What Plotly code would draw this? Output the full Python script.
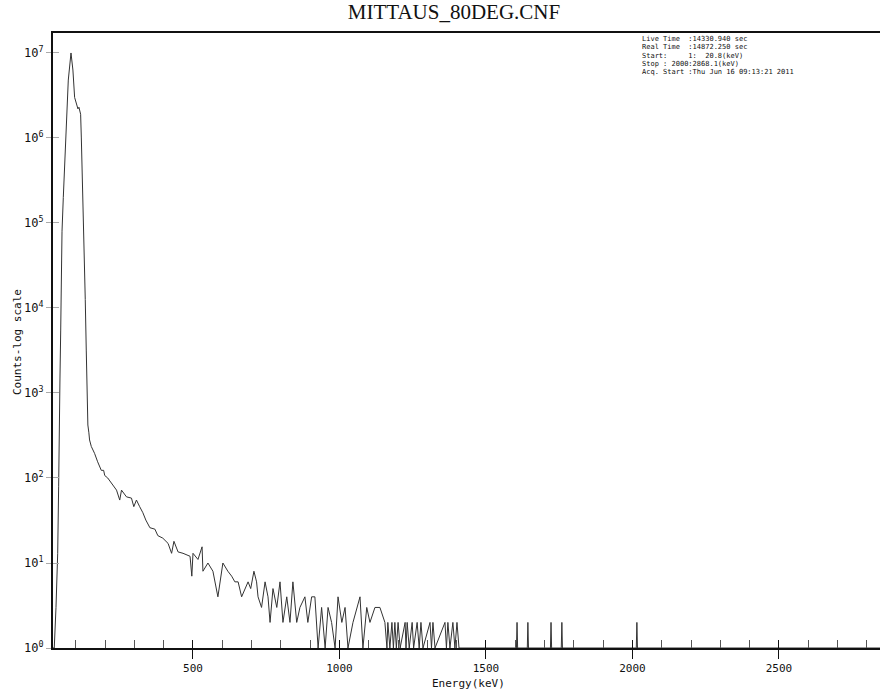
import plotly.graph_objects as go

# ---- data (rows aligned, 10 per row) ----
energy_kev = [
    20.8, 26.5, 32.4, 38.2, 41.5, 43.0, 46.0, 48.5, 51.0, 53.0,
    57.4, 65.5, 74.4, 83.6, 90.2, 96.0, 101.8, 107.3, 110.7, 116.5,
    118.9, 124.4, 129.9, 132.3, 135.7, 137.7, 141.2, 144.7, 147.0, 152.9,
    164.0, 174.6, 187.0, 195.0, 198.8, 209.0, 226.0, 239.0, 250.0, 256.0,
    273.0, 290.0, 298.0, 307.0, 318.0, 329.0, 339.0, 353.0, 370.0, 380.0,
    397.0, 415.0, 427.0, 435.0, 449.0, 466.0, 490.0, 496.0, 500.0, 517.0,
    531.0, 534.0, 551.0, 568.0, 585.0, 602.0, 619.0, 632.0, 643.0, 654.0,
    666.0, 677.0, 688.0, 697.0, 708.0, 717.0, 722.0, 734.0, 746.0, 756.0,
    763.0, 773.0, 786.0, 797.0, 807.0, 820.0, 831.0, 841.0, 854.0, 865.0,
    882.0, 892.0, 905.0, 916.0, 927.0, 939.0, 951.0, 961.0, 973.0, 985.0,
    995.0, 1008.0, 1019.0, 1029.0, 1046.0, 1070.0, 1080.0, 1093.0, 1104.0, 1121.0,
    1138.0, 1155.0, 1162.0, 1165.0, 1172.0, 1179.0, 1184.0, 1189.0, 1194.0, 1200.0,
    1207.0, 1224.0, 1227.0, 1231.0, 1238.0, 1248.0, 1253.0, 1265.0, 1272.0, 1278.0,
    1285.0, 1309.0, 1314.0, 1319.0, 1326.0, 1360.0, 1365.0, 1370.0, 1377.0, 1387.0,
    1394.0, 1401.0, 1408.0, 1604.0, 1606.0, 1608.0, 1641.0, 1643.0, 1645.0, 1720.0,
    1722.0, 1724.0, 1757.0, 1759.0, 1761.0, 2013.0, 2015.0, 2017.0, 2868.1,
]
counts = [
    1, 1, 3, 13, 80, 500, 1500, 5500, 25000, 80000,
    200000, 1000000, 4800000, 10000000, 6300000, 3000000, 2450000, 2200000, 2300000, 1900000,
    1000000, 200000, 52000, 12600, 3200, 1000, 420, 340, 280, 235,
    195, 155, 123, 123, 107, 100, 83, 72, 55, 72,
    60, 58, 46, 55, 46, 39, 32, 26, 25, 21,
    19.6, 17, 13, 18, 13.5, 13, 12, 7, 13, 11,
    15.5, 8, 10, 8, 4, 10, 8, 7, 6, 6,
    4, 5, 6, 5, 8, 6, 4, 3, 6, 4,
    2, 5, 3, 6, 2, 4, 2, 6, 2, 3,
    4, 2, 4, 4, 1, 3, 1, 3, 2, 1,
    4, 2, 3, 1, 2, 4, 1, 3, 2, 3,
    3, 2, 1, 2, 1, 2, 1, 2, 1, 2,
    1, 2, 1, 2, 1, 2, 1, 2, 1, 2,
    1, 2, 1, 2, 1, 2, 1, 2, 1, 2,
    1, 2, 1, 1, 2, 1, 1, 2, 1, 1,
    2, 1, 1, 2, 1, 1, 2, 1, 1,
]
x_tick_vals = [500, 1000, 1500, 2000, 2500]
x_tick_text = ["500", "1000", "1500", "2000", "2500"]
y_tick_vals = [1, 10, 100, 1000, 10000, 100000, 1000000, 10000000]
y_tick_text = ["10<sup>0</sup>", "10<sup>1</sup>", "10<sup>2</sup>", "10<sup>3</sup>",
               "10<sup>4</sup>", "10<sup>5</sup>", "10<sup>6</sup>", "10<sup>7</sup>"]
info_lines = [
    "Live Time  :14330.940 sec",
    "Real Time  :14872.250 sec",
    "Start:     1:  20.8(keV)",
    "Stop : 2000:2868.1(keV)",
    "Acq. Start :Thu Jun 16 09:13:21 2011",
]
title_text = "MITTAUS_80DEG.CNF"

W, H = 880, 695
ML, MR, MT, MB = 53, 0, 33, 47
X_RANGE = [22.2, 2844.8]
Y_RANGE = [0, 7.235]
MONO = "DejaVu Sans Mono"

fig = go.Figure()
fig.add_trace(go.Scatter(
    x=energy_kev, y=counts, mode="lines",
    line=dict(color="#333333", width=1), showlegend=False, hoverinfo="skip",
))
# overlay trace carrying the inward-facing tick marks
fig.add_trace(go.Scatter(x=[], y=[], xaxis="x2", yaxis="y2", showlegend=False))

fig.update_layout(
    width=W, height=H,
    margin=dict(l=ML, r=MR, t=MT, b=MB, pad=0),
    paper_bgcolor="white", plot_bgcolor="white",
    title=dict(text=title_text, x=454 / W, xref="container", xanchor="center",
               y=1 - 12 / H, yref="container", yanchor="middle",
               font=dict(family="Liberation Serif", size=21, color="#111")),
    xaxis=dict(
        range=X_RANGE, showgrid=False, zeroline=False,
        showline=True, linecolor="#111", linewidth=2, mirror=True,
        ticks="outside", ticklen=9, tickcolor="#111", tickwidth=1,
        tickvals=x_tick_vals, ticktext=x_tick_text,
        tickfont=dict(family=MONO, size=11, color="#111"),
        minor=dict(ticks="inside", dtick=100, tick0=0, ticklen=8, tickcolor="#555", tickwidth=1),
    ),
    xaxis2=dict(
        overlaying="x", matches="x", side="bottom", range=X_RANGE,
        showgrid=False, zeroline=False, showline=False,
        ticks="inside", ticklen=8, tickcolor="#111", tickwidth=1,
        tickvals=x_tick_vals, showticklabels=False,
    ),
    yaxis=dict(
        type="log", range=Y_RANGE, showgrid=False, zeroline=False,
        showline=True, linecolor="#111", linewidth=2, mirror=False,
        ticks="outside", ticklen=5, tickcolor="#aaa", tickwidth=1,
        tickvals=y_tick_vals, ticktext=y_tick_text,
        tickfont=dict(family=MONO, size=12, color="#111"),
    ),
    yaxis2=dict(
        type="log", overlaying="y", matches="y", side="left", range=Y_RANGE,
        showgrid=False, zeroline=False, showline=False,
        ticks="inside", ticklen=6, tickcolor="#aaa", tickwidth=1,
        tickvals=y_tick_vals, showticklabels=False,
    ),
)

plot_h = H - MT - MB
annotations = [
    dict(text="Counts-log scale", xref="paper", yref="paper", x=0, y=(648 - 342) / plot_h,
         xanchor="center", yanchor="middle", xshift=17 - ML, textangle=-90, showarrow=False,
         font=dict(family=MONO, size=11, color="#111")),
    dict(text="Energy(keV)", xref="paper", yref="paper", x=(468 - ML) / (W - ML), y=0,
         xanchor="center", yanchor="middle", yshift=-35, showarrow=False,
         font=dict(family=MONO, size=11, color="#111")),
]
line_y = [39, 47.3, 55.6, 63.9, 72.2]
for txt, yy in zip(info_lines, line_y):
    annotations.append(dict(
        text=txt.replace(" ", "&nbsp;"), xref="paper", yref="paper",
        x=(640 - ML) / (W - ML), y=(648 - yy) / plot_h,
        xanchor="left", yanchor="middle", showarrow=False,
        font=dict(family=MONO, size=7, color="#111"),
    ))
fig.update_layout(annotations=annotations)

fig.write_html("out.html")
